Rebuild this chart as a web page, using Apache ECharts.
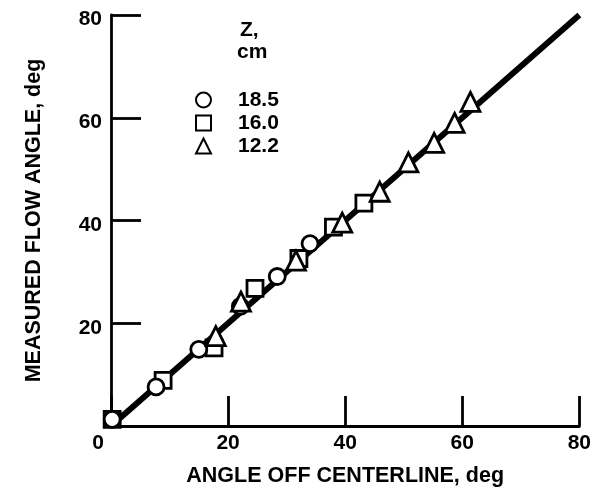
<!DOCTYPE html>
<html>
<head>
<meta charset="utf-8">
<script src="https://cdn.jsdelivr.net/npm/echarts@6/dist/echarts.min.js"></script>
<style>
  html, body { margin: 0; padding: 0; background: #fff; }
  #chart { width: 594px; height: 492px; }
</style>
</head>
<body>
<div id="chart"></div>
<script>
'use strict';

const FONT = '"Liberation Sans", Arial, Helvetica, sans-serif';
const INK = '#000';

// Z, cm series: [angle off centerline, measured flow angle]
const seriesNames = ['18.5', '16.0', '12.2'];
const circleData = [[0.2, 1.3], [7.7, 7.6], [15.0, 14.9], [22.1, 23.3], [28.4, 29.1], [34.0, 35.5]];
const squareData = [[0.2, 1.3], [8.9, 8.9], [17.6, 15.2], [24.6, 26.8], [32.1, 32.6], [38.0, 38.7], [43.2, 43.4]];
const triangleData = [[17.9, 17.5], [22.2, 24.2], [31.6, 32.2], [39.5, 39.6], [45.9, 45.6],
  [50.8, 51.3], [55.2, 55.1], [58.7, 59.0], [61.4, 63.1]];
const fitLine = [[0, 0], [80, 80]];
const axisTicks = {min: 0, max: 80, interval: 20};

function scatter(name, symbol, size, data, z) {
  return {
    type: 'scatter', name: name, symbol: symbol, symbolSize: size, data: data, z: z,
    itemStyle: {color: '#fff', borderColor: INK, borderWidth: 2.8, opacity: 1}
  };
}

const labelFont = {fontFamily: FONT, fontSize: 21, fontWeight: 'bold', color: INK};

function axis(extra) {
  return Object.assign({
    type: 'value', min: axisTicks.min, max: axisTicks.max, interval: axisTicks.interval,
    nameLocation: 'middle',
    nameTextStyle: {fontFamily: FONT, fontSize: 21.5, fontWeight: 'bold', color: INK},
    axisLine: {show: true, onZero: false, lineStyle: {color: INK, width: 2.8}},
    axisTick: {show: true, inside: true, length: 30, lineStyle: {color: INK, width: 2.8}},
    splitLine: {show: false}
  }, extra);
}

const chart = echarts.init(document.getElementById('chart'), null, {renderer: 'canvas'});
chart.setOption({
  animation: false,
  backgroundColor: '#fff',
  grid: {left: 111, right: 9, top: 15, bottom: 65},
  xAxis: axis({
    name: 'ANGLE OFF CENTERLINE, deg', nameGap: 39,
    axisLabel: Object.assign({}, labelFont, {
      margin: 7,
      formatter: v => v === 0 ? '{z|0}' : String(v),
      rich: {z: Object.assign({}, labelFont, {padding: [0, 26, 0, 0]})}
    })
  }),
  yAxis: axis({
    name: 'MEASURED FLOW ANGLE, deg', nameGap: 66,
    axisLabel: Object.assign({}, labelFont, {margin: 9, showMinLabel: false,
      verticalAlign: 'top', padding: [-6, 0, 0, 0]})
  }),
  legend: {
    data: seriesNames, orient: 'vertical', left: 190, top: 84,
    itemWidth: 15, itemHeight: 15, itemGap: 1,
    textStyle: Object.assign({}, labelFont, {lineHeight: 22, padding: [0, 0, 0, 22]}),
    selectedMode: false
  },
  graphic: [
    {type: 'text', left: 240, top: 20, style: {text: 'Z,', font: 'bold 21px ' + FONT, fill: INK}},
    {type: 'text', left: 237, top: 42, style: {text: 'cm', font: 'bold 21px ' + FONT, fill: INK}}
  ],
  series: [
    {type: 'line', data: fitLine, symbol: 'none', z: 2, lineStyle: {color: INK, width: 6}},
    scatter(seriesNames[0], 'circle', 16, circleData, 4),
    scatter(seriesNames[1], 'rect', 16, squareData, 3),
    scatter(seriesNames[2], 'triangle', 19, triangleData, 5)
  ]
});
</script>
</body>
</html>
